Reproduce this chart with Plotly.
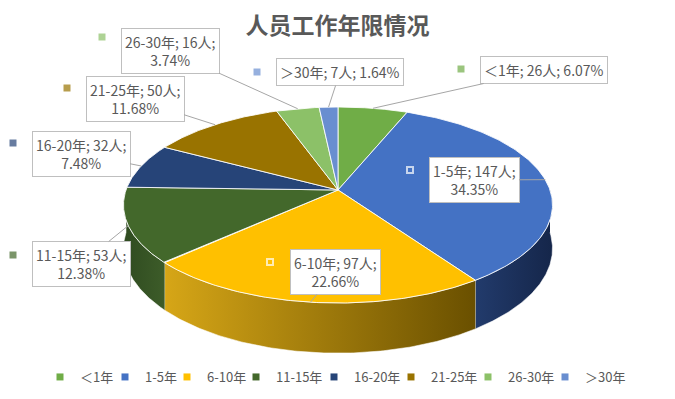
import numpy as np
import plotly.graph_objects as go

# ---------------- data ----------------
categories = ["＜1年", "1-5年", "6-10年", "11-15年", "16-20年", "21-25年", "26-30年", "＞30年"]
counts = [26, 147, 97, 53, 32, 50, 16, 7]
title_text = "人员工作年限情况"

# ---------------- styles ----------------
top_colors = ["#70AD47", "#4472C4", "#FFC000", "#43682B", "#264478", "#997300", "#8CC168", "#698ED0"]
side_grad = {
    1: ["#223B6C", "#15264A"],
    2: ["#D6A617", "#6A5000"],
    3: ["#2F4B20", "#3D5C29"],
    4: ["#1A2F55", "#1A2F55"],
}
FONT = "Noto Sans CJK SC"
TXT = "#595959"

# layout geometry (pixel space of the 675x399 canvas)
CX, CY, RX, RY, P, DEPTH = 338, 190, 212, 95.7, 0.153, 42.5
label_box = [(544, 70), (474, 180), (335, 272), (81, 264), (81, 154), (135, 99), (170, 51), (340, 72)]
label_key = [(461, 69), (410, 170), (270, 262), (13, 255), (13, 143), (67, 88), (102, 37), (257, 72)]
legend_sym_x = [63, 128, 190, 259, 337, 414, 491, 568]
two_lines = [False, True, True, True, True, True, True, False]
inside = [False, True, True, False, False, False, False, False]


def proj(theta):
    s = 1 + P * np.cos(theta)
    return CX + RX * np.sin(theta) / s, CY - RY * np.cos(theta) / s


def depth(theta):
    return DEPTH / (1 + P * np.cos(theta))


vals = np.array(counts, dtype=float)
total = vals.sum()
frac = vals / total
ends = np.cumsum(frac) * 2 * np.pi
starts = ends - frac * 2 * np.pi

fig = go.Figure()

# side walls (front half only)
for i in range(len(categories)):
    t0 = max(starts[i], np.pi / 2)
    t1 = min(ends[i], 3 * np.pi / 2)
    if t1 <= t0:
        continue
    th = np.linspace(t0, t1, 120)
    x, y = proj(th)
    yb = y + depth(th)
    cols = side_grad.get(i, [top_colors[i], top_colors[i]])
    fig.add_trace(go.Scatter(
        x=np.concatenate([x, x[::-1]]), y=np.concatenate([y, yb[::-1]]),
        mode="lines", fill="toself",
        fillgradient=dict(type="horizontal", colorscale=[[0, cols[0]], [1, cols[1]]]),
        line=dict(color="rgba(255,255,255,0.7)", width=0.8),
        hoverinfo="skip", showlegend=False))

# top faces
for i in range(len(categories)):
    th = np.linspace(starts[i], ends[i], 150)
    x, y = proj(th)
    fig.add_trace(go.Scatter(
        x=np.concatenate([[CX], x, [CX]]), y=np.concatenate([[CY], y, [CY]]),
        mode="lines", fill="toself", fillcolor=top_colors[i],
        line=dict(color="rgba(255,255,255,0.85)", width=1),
        hoverinfo="skip", showlegend=False))

# data labels with leader lines
for i, cat in enumerate(categories):
    pct = f"{frac[i] * 100:.2f}%"
    sep = "<br>" if two_lines[i] else " "
    text = f"{cat}; {counts[i]}人;{sep}{pct}"
    mid = (starts[i] + ends[i]) / 2
    tx, ty = proj(mid)
    bx, by = label_box[i]
    fig.add_annotation(
        x=tx, y=ty, xref="x", yref="y", ax=bx, ay=by, axref="x", ayref="y",
        text=text, showarrow=True, arrowhead=0, arrowwidth=1, arrowcolor="#A6A6A6",
        standoff=0, bordercolor="#BFBFBF", borderwidth=1, borderpad=3, bgcolor="white",
        font=dict(family=FONT, size=14, color=TXT), align="center")

# legend keys next to labels
fig.add_trace(go.Scatter(
    x=[p[0] for p in label_key], y=[p[1] for p in label_key], mode="markers",
    marker=dict(symbol="square", size=[6 if s else 7 for s in inside], color=top_colors,
                line=dict(color="white", width=[2 if s else 0 for s in inside])),
    hoverinfo="skip", showlegend=False))

# legend entries: one legend box per entry so spacing follows the reference
legend_layout = {}
for k, (cat, c) in enumerate(zip(categories, top_colors)):
    lname = "legend" if k == 0 else f"legend{k + 1}"
    fig.add_trace(go.Scatter(x=[None], y=[None], mode="markers", name=cat, legend=lname,
                             marker=dict(symbol="square", size=7, color=c)))
    legend_layout[lname] = dict(
        orientation="h", x=(legend_sym_x[k] - 3 - 20) / 675, xanchor="left",
        y=1 - 377 / 399, yanchor="middle",
        font=dict(family=FONT, size=13, color=TXT), bgcolor="rgba(0,0,0,0)")

fig.update_layout(
    width=675, height=399,
    margin=dict(l=0, r=0, t=0, b=0, autoexpand=False),
    paper_bgcolor="white", plot_bgcolor="white",
    title=dict(text=title_text, x=0.5, xanchor="center", y=1 - 26 / 399, yanchor="middle",
               yref="container", font=dict(family=FONT, size=23, color=TXT, weight="bold")),
    xaxis=dict(range=[0, 675], visible=False, fixedrange=True),
    yaxis=dict(range=[399, 0], visible=False, fixedrange=True),
    hovermode=False,
    **legend_layout,
)

fig.write_html("out.html", config={"displayModeBar": False},
               post_script="document.body.style.margin='0px';")
